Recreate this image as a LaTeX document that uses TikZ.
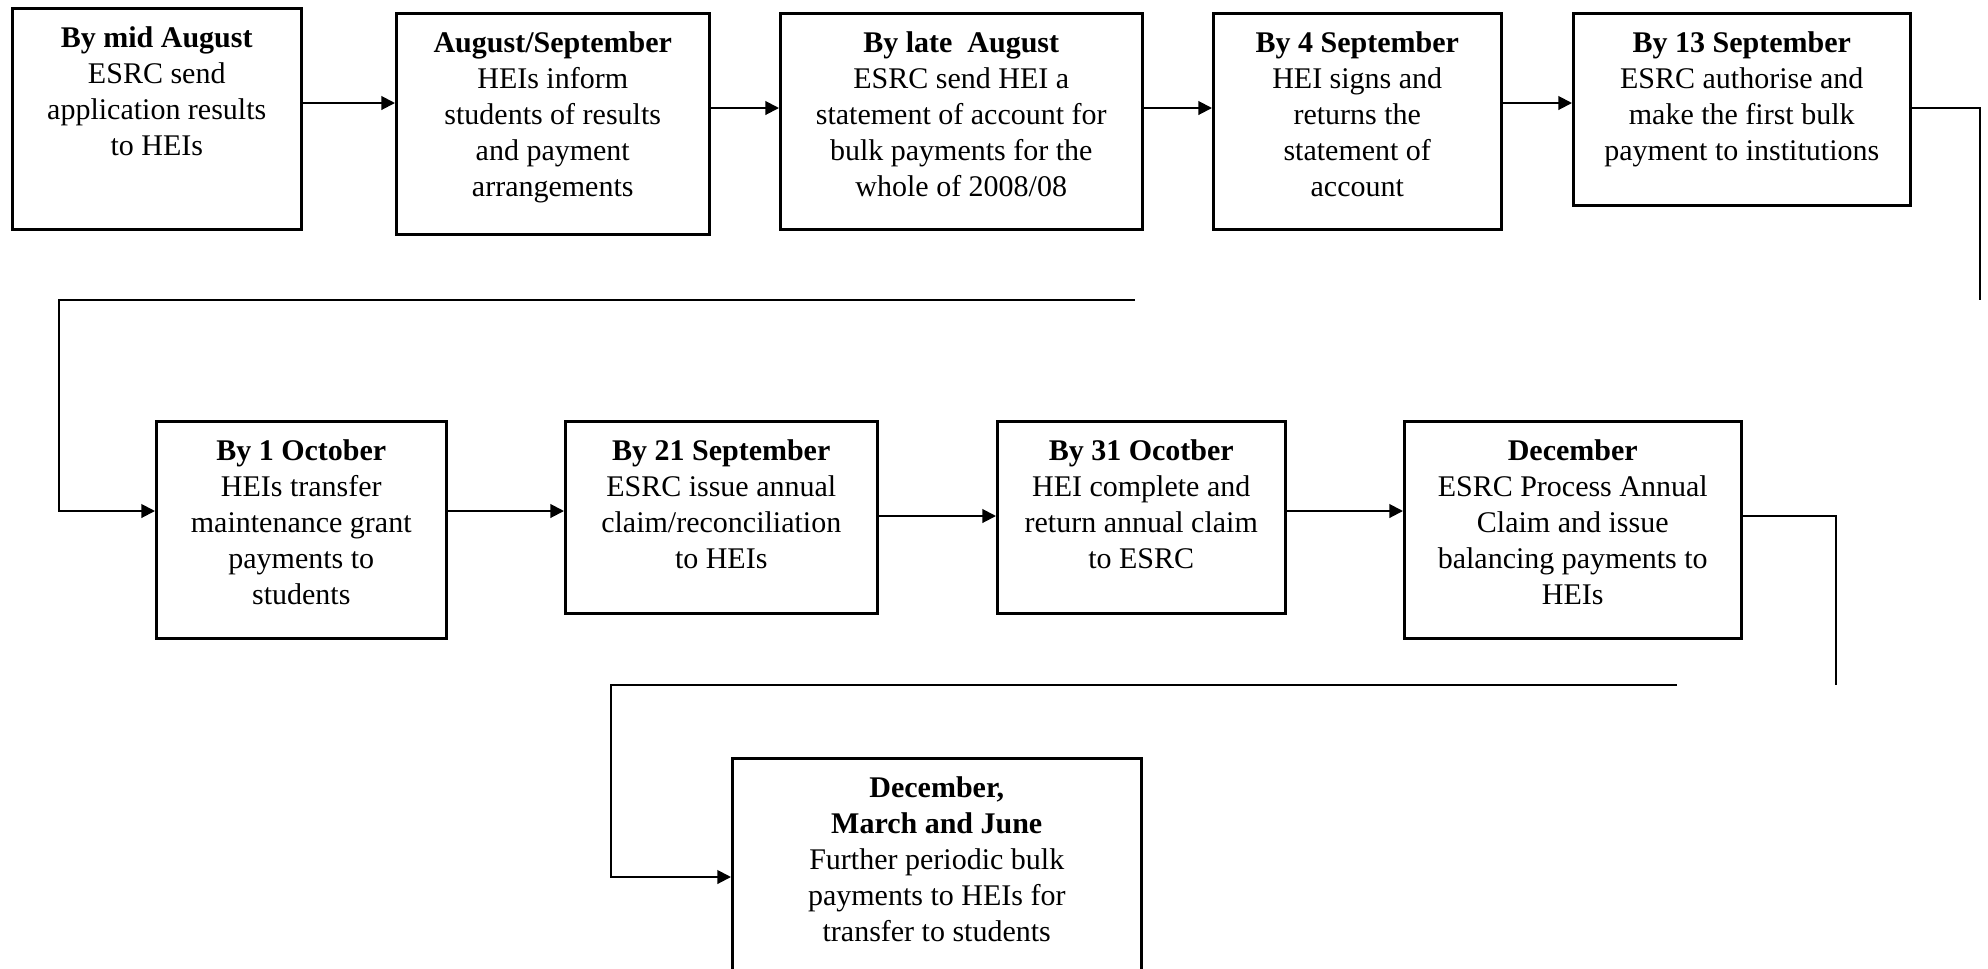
\documentclass[tikz,border=0pt]{standalone}
\usepackage{fontspec}
\setmainfont{Liberation Serif}
\usetikzlibrary{arrows.meta}
\newcommand{\steptext}[3]{\begin{minipage}[t][\dimexpr0.4pt*#2\relax][t]{\dimexpr0.4pt*#1\relax}\centering\vspace*{7.5pt}#3\end{minipage}}
\tikzset{stepbox/.style={draw, line width=1pt, inner sep=0pt, anchor=north west},
  link/.style={line width=0.8pt}}
\begin{document}
\begin{tikzpicture}[x=0.4pt, y=-0.4pt, font=\fontsize{12}{14.4}\selectfont, >={Triangle[length=5.5pt,width=5.5pt]}]
\useasboundingbox (0,0) rectangle (1988,968);
\clip (0,0) rectangle (1988,968);
% first row
\node[stepbox] (b1) at (11,7) {\steptext{289}{221}{\textbf{By mid August}\\ESRC send\\application results\\to HEIs}};
\node[stepbox] (b2) at (395,12) {\steptext{313}{221}{\textbf{August/September}\\HEIs inform\\students of results\\and payment\\arrangements}};
\node[stepbox] (b3) at (779,12) {\steptext{362}{216}{\textbf{By late\ \ August}\\ESRC send HEI a\\statement of account for\\bulk payments for the\\whole of 2008/08}};
\node[stepbox] (b4) at (1212,12) {\steptext{288}{216}{\textbf{By 4 September}\\HEI signs and\\returns the\\statement of\\account}};
\node[stepbox] (b5) at (1572,12) {\steptext{337}{192}{\textbf{By 13 September}\\ESRC authorise and\\make the first bulk\\payment to institutions}};
% second row
\node[stepbox] (b6) at (155,420) {\steptext{290}{217}{\textbf{By 1 October}\\HEIs transfer\\maintenance grant\\payments to\\students}};
\node[stepbox] (b7) at (564,420) {\steptext{312}{192}{\textbf{By 21 September}\\ESRC issue annual\\claim/reconciliation\\to HEIs}};
\node[stepbox] (b8) at (996,420) {\steptext{288}{192}{\textbf{By 31 Ocotber}\\HEI complete and\\return annual claim\\to ESRC}};
\node[stepbox] (b9) at (1403,420) {\steptext{337}{217}{\textbf{December}\\ESRC Process Annual\\Claim and issue\\balancing payments to\\HEIs}};
% last box
\node[stepbox] (b10) at (731,757) {\steptext{409}{260}{\textbf{December,}\\\textbf{March and June}\\Further periodic bulk\\payments to HEIs for\\transfer to students}};
% arrows
\foreach \a/\b/\y in {b1/b2/103,b2/b3/108,b3/b4/108,b4/b5/103,b6/b7/511,b7/b8/516,b8/b9/511}
\draw[link,->] (\a.east |- 0,\y) -- (\b.west |- 0,\y);
\coordinate (r1) at (1980,300);
\coordinate (l1) at (1135,300);
\coordinate (r2) at (1836,685);
\coordinate (l2) at (1677,685);
\draw[link] (b5.east |- 0,108) -| (r1);
\draw[link,->] (l1) -- (59,300) |- (b6.west |- 0,511);
\draw[link] (b9.east |- 0,516) -| (r2);
\draw[link,->] (l2) -- (611,685) |- (b10.west |- 0,877);
\end{tikzpicture}
\end{document}
